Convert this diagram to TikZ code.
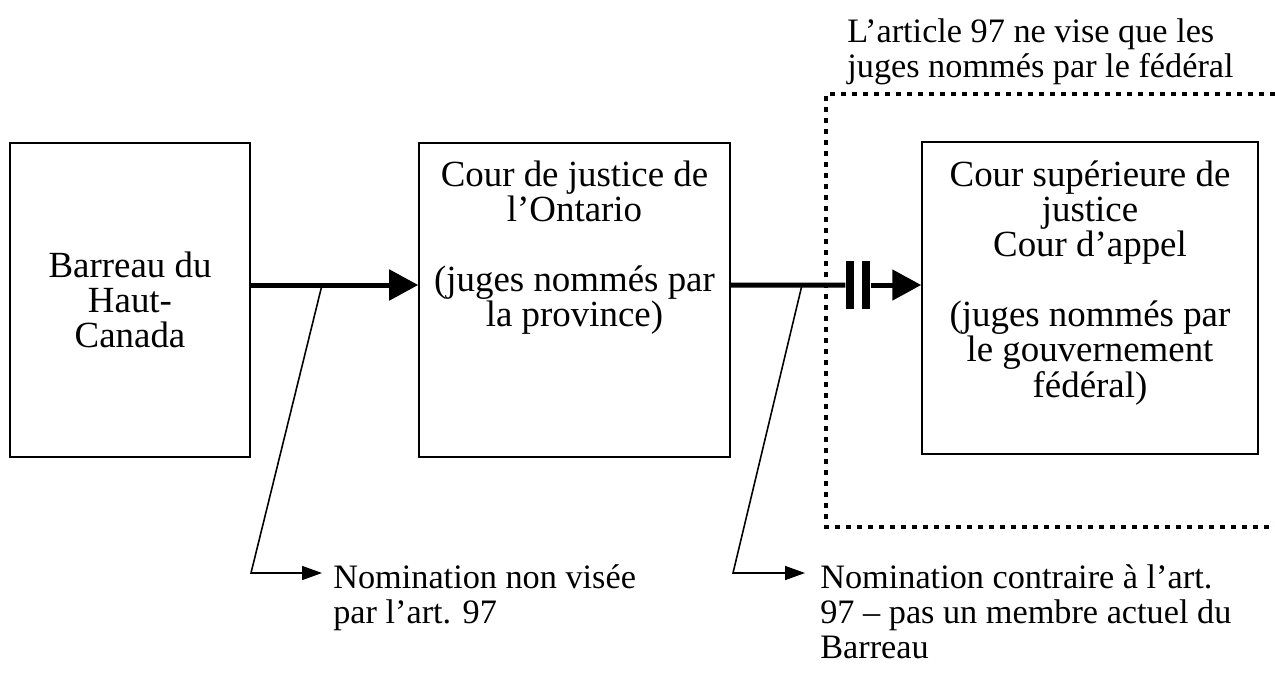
\documentclass[tikz,border=0pt]{standalone}
\usepackage{fontspec}
\setmainfont{Liberation Serif}
\usetikzlibrary{arrows.meta}

\begin{document}
\begin{tikzpicture}[x=0.02cm, y=-0.02cm, font=\fontsize{21}{20}\selectfont]
\tikzstyle{box} = [rectangle, draw=black, line width=0.9pt, inner sep=0pt, align=center]
\tikzstyle{boxtext} = [align=center, anchor=north, inner sep=0pt]
\tikzstyle{note} = [align=left, anchor=north west, inner sep=0pt, font=\fontsize{19.5}{20}\selectfont]
\tikzstyle{arrow} = [line width=0.1cm, -{Triangle[length=0.58cm, width=0.6cm]}]
\tikzstyle{link} = [line width=0.1cm]
\tikzstyle{block} = [rectangle, fill=black, minimum width=0.17cm, minimum height=0.96cm, inner sep=0pt]
\tikzstyle{callout} = [line width=0.9pt, -{Triangle[length=0.4cm, width=0.28cm]}]
\tikzstyle{zone} = [line width=0.09cm, dash pattern=on 0.1cm off 0.12cm]

\useasboundingbox (0,0) rectangle (1275,673);

% Zone
\draw [zone] (1275,94) -- (826,94) -- (826,527) -- (1275,527);
\node (portee) [note] at (847,18) {L’article 97 ne vise que les\\juges nommés par le fédéral};

% Nodes
\node (barreau) [box, minimum width=4.8cm, minimum height=6.28cm] at (130,300) {Barreau du\\Haut-\\Canada};
\node (ontario) [box, minimum width=6.22cm, minimum height=6.28cm] at (574.5,300) {};
\node (federal) [box, minimum width=6.72cm, minimum height=6.24cm] at (1090,298) {};
\node (ontariotext) [boxtext] at ([yshift=-0.36cm]ontario.north) {Cour de justice de\\l’Ontario\\ \\(juges nommés par\\la province)};
\node (federaltext) [boxtext] at ([yshift=-0.38cm]federal.north) {Cour supérieure de\\justice\\Cour d’appel\\ \\(juges nommés par\\le gouvernement\\fédéral)};
\node (blockA) [block] at (850,285) {};
\node (blockB) [block] at (866,285) {};

% Arrows
\draw [arrow] ([yshift=0.3cm]barreau.east) -- ([yshift=0.3cm]ontario.west);
\draw [link] ([yshift=0.3cm]ontario.east) -- (blockA);
\draw [arrow] (blockB) -- (blockB -| federal.west);

% Callouts
\coordinate (hit1) at (322,285);
\coordinate (bend1) at (251,573);
\coordinate (tip1) at (322,573);
\coordinate (hit2) at (802,285);
\coordinate (bend2) at (733,573);
\coordinate (tip2) at (805,573);
\draw [callout] (hit1) -- (bend1) -- (tip1);
\draw [callout] (hit2) -- (bend2) -- (tip2);
\node (note1) [note] at (333,564) {Nomination non visée\\par l’art. 97};
\node (note2) [note] at (820,564) {Nomination contraire à l’art.\\97 – pas un membre actuel du\\Barreau};

\end{tikzpicture}
\end{document}
